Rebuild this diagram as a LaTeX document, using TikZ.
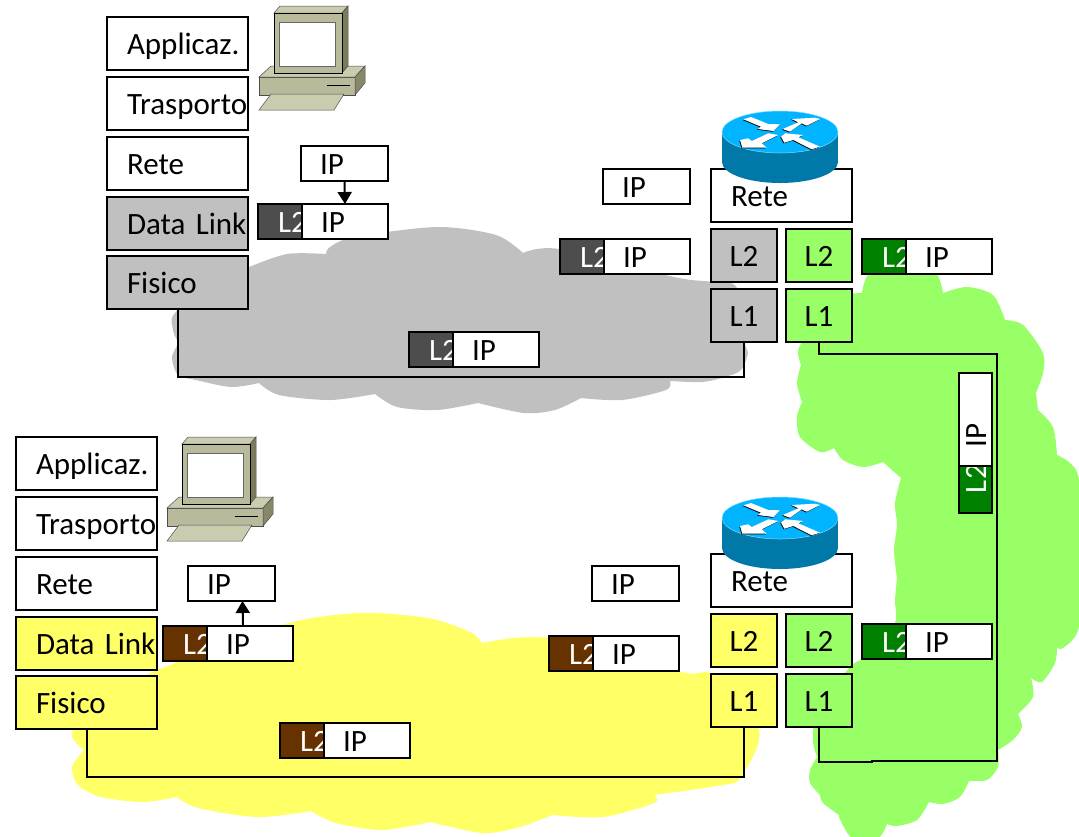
\documentclass[tikz,border=0pt]{standalone}
\usepackage{fontspec}
\setmainfont{Carlito}
\usetikzlibrary{positioning,arrows.meta}

\definecolor{cloudgray}{HTML}{C0C0C0}
\definecolor{cloudyellow}{HTML}{FFFF66}
\definecolor{cloudgreen}{HTML}{99FF66}
\definecolor{headgray}{HTML}{4D4D4D}
\definecolor{headbrown}{HTML}{663300}
\definecolor{headgreen}{HTML}{008000}
\definecolor{pclight}{HTML}{CBCBB0}
\definecolor{pcmid}{HTML}{B9B99C}
\definecolor{pcdark}{HTML}{7C7C5C}
\definecolor{routertop}{HTML}{00B4FF}
\definecolor{routerside}{HTML}{0079A8}

\tikzset{
  boxtext/.style={font=\fontsize{31}{36}\selectfont,text height=25pt,text depth=4pt},
  layerbox/.style={boxtext,draw,line width=2pt,outer sep=0pt,anchor=north west,
    minimum height=53pt,text width=101pt,inner xsep=20pt,inner ysep=0pt,align=left},
  routerbox/.style={boxtext,draw,line width=2pt,outer sep=0pt,anchor=north west,
    minimum width=66pt,minimum height=53pt,inner sep=0pt},
  ipbody/.style={boxtext,text height=23pt,text depth=2pt,draw,fill=white,line width=2pt,outer sep=0pt,
    minimum height=35pt,text width=48pt,inner xsep=19pt,inner ysep=0pt,align=left},
  l2head/.style={boxtext,text height=23pt,text depth=2pt,draw,fill=#1,text=white,line width=2pt,outer sep=0pt,
    minimum height=35pt,text width=4pt,inner xsep=20pt,inner ysep=0pt,align=left},
  wire/.style={line width=2.5pt},
  pcpic/.pic={
    \path[draw=black!70,line width=.5pt,fill=pcmid] (0,71) rectangle (96,89);
    \path[draw=black!70,line width=.5pt,fill=pclight] (0,71) -- (12,60) -- (106,60) -- (96,71) -- cycle;
    \path[draw=black!70,line width=.5pt,fill=pcdark!80!pcmid] (96,71) -- (106,60) -- (106,77) -- (96,89) -- cycle;
    \path[draw=black,line width=1pt] (68,79) -- (91,79);
    \path[draw=black!70,line width=.5pt,fill=pclight] (0,104) -- (12,88) -- (85,88) -- (75,104) -- cycle;
    \path[draw=black!70,line width=.5pt,fill=pclight] (15,7) -- (21,0) -- (89,0) -- (83,7) -- cycle;
    \path[draw=black!70,line width=.5pt,fill=pcdark] (83,7) -- (89,0) -- (89,60) -- (83,67) -- cycle;
    \path[draw=black,line width=.7pt,fill=pcmid] (15,7) rectangle (83,67);
    \path[draw=black!60,line width=1pt,fill=white] (20,16) rectangle (76,60);
  },
  arrowface/.style={fill=white,preaction={fill=black,transform canvas={shift={(-.7pt,-.7pt)}}}},
  routerpic/.pic={
    \fill[routerside] (-58,0) rectangle (58,30);
    \fill[routerside] (0,30) ellipse [x radius=58,y radius=21];
    \path[fill=routertop,draw=routertop!50!white,line width=.5pt] (0,0) ellipse [x radius=58,y radius=21];
    \path[arrowface] (-36.7,-12.7) -- (-29,-15) -- (-11.7,-8) -- (0,-7.7) -- (-6.7,-1) -- (-22.3,-3) -- (-19,-5.3) -- cycle;
    \path[arrowface] (2.7,-3) -- (18.3,-9.7) -- (11.7,-13) -- (35,-14.3) -- (40,-13) -- (26.7,-6.3) -- (21.7,-8.7) -- (10,-.3) -- cycle;
    \path[arrowface] (-1.7,3) -- (-18.3,11.3) -- (-13.3,15.7) -- (-37.7,15.7) -- (-40,8) -- (-31.7,6.3) -- (-28.3,9) -- (-11.7,1.3) -- cycle;
    \path[arrowface] (1,4.7) -- (5,1.3) -- (23.3,3) -- (18.3,5.3) -- (40,14.7) -- (31.7,17.3) -- (13.3,8) -- (4.3,10.7) -- cycle;
  }
}

\begin{document}
\begin{tikzpicture}[x=1pt,y=-1pt]
\useasboundingbox (0,0) rectangle (1079,836);

% clouds
\fill[cloudgray] plot[smooth] coordinates {(249,267) (287,254) (326,254)}
  -- plot[smooth] coordinates {(326,254) (330,247) (354,237) (437,227) (496,235) (523,253)}
  -- plot[smooth] coordinates {(523,253) (559,249) (674,277) (713,282) (737,288) (745,343) (748,353) (741,370) (725,377) (702,382) (670,381)}
  -- plot[smooth] coordinates {(670,381) (666,390) (622,400) (581,398)}
  -- plot[smooth] coordinates {(581,398) (555,410) (524,413) (478,403)}
  -- plot[smooth] coordinates {(478,403) (437,410) (397,407) (375,394)}
  -- plot[smooth] coordinates {(375,394) (330,400) (279,395) (259,383)}
  -- plot[smooth] coordinates {(259,383) (231,387) (196,380) (178,375) (172,357) (179,343)}
  -- plot[smooth] coordinates {(179,343) (173,330) (178,310) (249,267)} -- cycle;

\fill[cloudyellow] plot[smooth] coordinates {(157,670) (281,625) (359,613) (428,618) (470,632) (482,643)}
  -- plot[smooth] coordinates {(482,643) (550,638) (681,672) (713,675) (759,730) (741,777) (723,785) (654,795)}
  -- plot[smooth] coordinates {(654,795) (654,803) (603,817) (552,815)}
  -- plot[smooth] coordinates {(552,815) (520,827) (483,833) (430,822)}
  -- plot[smooth] coordinates {(430,822) (382,830) (336,823) (311,811)}
  -- plot[smooth] coordinates {(311,811) (258,817) (198,808) (177,797)}
  -- plot[smooth] coordinates {(177,797) (143,802) (101,797) (78,785) (72,767) (84,750)}
  -- plot[smooth] coordinates {(84,750) (72,733) (100,700) (157,670)} -- cycle;

\fill[cloudgreen] plot[smooth] coordinates {(862,293) (870,273) (905,268) (935,272) (943,293)}
  -- plot[smooth] coordinates {(943,293) (967,287) (993,295) (1005,320)}
  -- plot[smooth] coordinates {(1005,320) (1023,325) (1043,353) (1043,373) (1036,393)}
  -- (1038,410)
  -- plot[smooth] coordinates {(1038,410) (1053,427) (1057,455)}
  -- plot[smooth] coordinates {(1057,455) (1070,463) (1079,480) (1084,550) (1079,627) (1063,648) (1057,647)}
  -- plot[smooth] coordinates {(1057,647) (1055,663) (1042,682) (1031,678)}
  -- plot[smooth] coordinates {(1031,678) (1033,697) (1018,714)}
  -- plot[smooth] coordinates {(1018,714) (1022,727) (1013,740) (998,750)}
  -- plot[smooth] coordinates {(998,750) (998,767) (987,780) (969,781)}
  -- plot[smooth] coordinates {(969,781) (960,797) (943,804) (929,802)}
  -- plot[smooth] coordinates {(929,802) (917,820) (897,826) (887,824)}
  -- plot[smooth] coordinates {(887,824) (878,838) (852,838) (839,817)}
  -- plot[smooth] coordinates {(839,815) (823,803) (820,795)}
  -- plot[smooth] coordinates {(820,795) (810,783) (810,770) (817,757)}
  -- plot[smooth] coordinates {(817,757) (813,740) (818,710) (852,665) (875,655) (895,623) (895,600) (897,578)}
  -- plot[smooth] coordinates {(897,578) (894,550) (897,525) (895,503) (901,478)}
  -- plot[smooth] coordinates {(901,478) (883,462)}
  -- plot[smooth] coordinates {(883,462) (863,467) (843,460) (834,448)}
  -- plot[smooth] coordinates {(834,448) (820,452) (800,437) (797,417) (802,402)}
  -- plot[smooth] coordinates {(802,402) (797,383) (801,365)}
  -- plot[smooth] coordinates {(801,365) (798,353) (802,342) (830,300) (862,293)} -- cycle;

% left stack, top host
\node[layerbox] (appA) at (107,17) {Applicaz.};
\node[layerbox] (traA) at (107,77) {\mbox{Trasporto}};
\node[layerbox] (retA) at (107,137) {Rete};
\node[layerbox,fill=cloudgray] (dataA) at (107,197) {\mbox{Data Link}};
\node[layerbox,fill=cloudgray] (fisA) at (107,256) {Fisico};
\pic at (259,6) {pcpic};

% left stack, bottom host
\node[layerbox] (appB) at (16,437) {Applicaz.};
\node[layerbox] (traB) at (16,497) {\mbox{Trasporto}};
\node[layerbox] (retB) at (16,557) {Rete};
\node[layerbox,fill=cloudyellow] (dataB) at (16,617) {\mbox{Data Link}};
\node[layerbox,fill=cloudyellow] (fisB) at (16,676) {Fisico};
\pic at (167,437) {pcpic};

% top router
\node[layerbox] (retC) at (711,169) {Rete};
\node[routerbox,fill=cloudgray] (ltwoC) at (711,229) {L2};
\node[routerbox,fill=cloudgray] (loneC) at (711,289) {L1};
\node[routerbox,fill=cloudgreen] (ltwoD) at (786,229) {L2};
\node[routerbox,fill=cloudgreen] (loneD) at (786,289) {L1};
\pic at (780,132) {routerpic};

% bottom router
\node[layerbox] (retE) at (711,554) {Rete};
\node[routerbox,fill=cloudyellow] (ltwoE) at (711,614) {L2};
\node[routerbox,fill=cloudyellow] (loneE) at (711,674) {L1};
\node[routerbox,fill=cloudgreen] (ltwoF) at (786,614) {L2};
\node[routerbox,fill=cloudgreen] (loneF) at (786,674) {L1};
\pic at (780,518) {routerpic};

% links
\coordinate (cornerA) at (178,377);
\coordinate (cornerB) at (87,777);
\coordinate (greenTop) at (819,354);
\coordinate (greenRight) at (997,354);
\coordinate (greenLow) at (997,761);
\coordinate (greenStep) at (872,761);
\coordinate (greenLeft) at (819,762);
\draw[wire] (fisA.south -| cornerA) -- (cornerA) -| (loneC.south);
\draw[wire] (fisB.south -| cornerB) -- (cornerB) -| (loneE.south);
\draw[wire] (loneD.south -| greenTop) -- (greenTop) -- (greenRight) -- (greenLow) -- (greenStep) -- ([yshift=-1pt]greenStep) -- (greenLeft) -- (loneF.south -| greenLeft);

% frames
\node[ipbody,anchor=north west,text width=49pt] (ipA) at (301,146) {IP};
\node[ipbody,anchor=north west,text width=49pt] (ipC) at (603,169) {IP};
\node[ipbody,anchor=north west,text width=49pt] (ipB) at (188,566) {IP};
\node[ipbody,anchor=north west,text width=49pt] (ipE) at (592,566) {IP};

\node[l2head=headgray,anchor=north west] (headA) at (258,204) {L2};
\node[ipbody,right=0pt of headA] (bodyA) {IP};
\node[l2head=headgray,anchor=north west] (headC) at (560,239) {L2};
\node[ipbody,right=0pt of headC] (bodyC) {IP};
\node[l2head=headgray,anchor=north west] (headG) at (409,332) {L2};
\node[ipbody,right=0pt of headG] (bodyG) {IP};
\node[l2head=headgreen,anchor=north west] (headD) at (862,239) {L2};
\node[ipbody,right=0pt of headD] (bodyD) {IP};
\node[l2head=headbrown,anchor=north west] (headB) at (163,626) {L2};
\node[ipbody,right=0pt of headB] (bodyB) {IP};
\node[l2head=headbrown,anchor=north west] (headE) at (549,636) {L2};
\node[ipbody,right=0pt of headE] (bodyE) {IP};
\node[l2head=headbrown,anchor=north west] (headY) at (280,723) {L2};
\node[ipbody,right=0pt of headY] (bodyY) {IP};
\node[l2head=headgreen,anchor=north west] (headF) at (862,624) {L2};
\node[ipbody,right=0pt of headF] (bodyF) {IP};

% frame on the long link, written upwards
\node[l2head=headgreen,rotate=90,anchor=north west,minimum height=33pt,text width=7pt] (headV) at (959,513) {L2};
\node[ipbody,rotate=90,anchor=north west,minimum height=33pt,text width=55pt] (bodyV) at (959,466) {IP};

\draw[line width=2pt,-{Triangle[width=14pt,length=12pt]}] (ipA.south) -- (bodyA.north);
\draw[line width=2pt,-{Triangle[width=14pt,length=12pt]}] ([xshift=-7pt]bodyB.north) -- ([xshift=11pt]ipB.south);

\end{tikzpicture}
\end{document}
